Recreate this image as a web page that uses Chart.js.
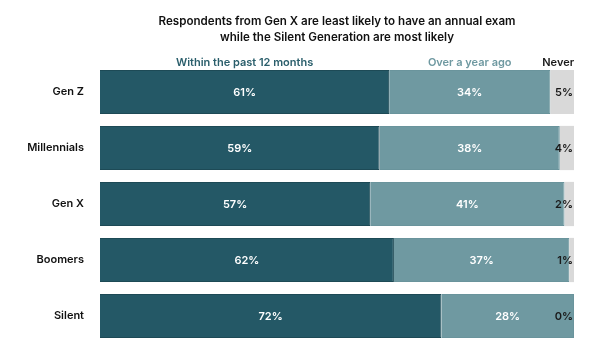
<!DOCTYPE html>
<html><head><meta charset="utf-8">
<script src="https://cdn.jsdelivr.net/npm/chart.js@4/dist/chart.umd.min.js"></script>
<style>html,body{margin:0;padding:0;background:#fff}#wrap{width:600px;height:360px}</style>
</head><body><div id="wrap"><canvas id="c"></canvas></div>
<script>
const categories = ["Gen Z", "Millennials", "Gen X", "Boomers", "Silent"];
const withinYear = [61, 59, 57, 62, 72];
const overYear = [34, 38, 41, 37, 28];
const never = [5, 4, 2, 1, 0];
const seriesNames = ["Within the past 12 months", "Over a year ago", "Never"];
const titleLines = ["Respondents from Gen X are least likely to have an annual exam", "while the Silent Generation are most likely"];

const FONT = "Inter, 'DejaVu Sans', sans-serif";
const colors = ["#245866", "#6f99a1", "#d9d9d9"];
const headerColors = ["#2a5e6b", "#6f99a1", "#1a1a1a"];

const overlay = {
  id: 'overlay',
  afterDatasetsDraw(chart) {
    const ctx = chart.ctx;
    const ca = chart.chartArea;
    ctx.save();
    // title
    ctx.fillStyle = '#111';
    ctx.font = "600 11.6px " + FONT;
    ctx.textAlign = 'center';
    ctx.textBaseline = 'middle';
    const cx = (ca.left + ca.right) / 2;
    ctx.fillText(titleLines[0], cx, 22);
    ctx.fillText(titleLines[1], cx, 38);
    // header labels over first row
    ctx.font = "600 11px " + FONT;
    chart.data.datasets.forEach((ds, i) => {
      const el = chart.getDatasetMeta(i).data[0];
      const l = Math.min(el.x, el.base), r = Math.max(el.x, el.base);
      ctx.fillStyle = headerColors[i];
      if (i === 2) { ctx.textAlign = 'right'; ctx.fillText(ds.label, ca.right, 63); }
      else { ctx.textAlign = 'center'; ctx.fillText(ds.label, (l + r) / 2, 63); }
    });
    // value labels
    ctx.font = "600 11px " + FONT;
    chart.data.datasets.forEach((ds, i) => {
      chart.getDatasetMeta(i).data.forEach((el, j) => {
        const v = ds.data[j];
        const l = Math.min(el.x, el.base), r = Math.max(el.x, el.base);
        if (i === 2) {
          ctx.fillStyle = '#1a1a1a'; ctx.textAlign = 'right';
          ctx.fillText(v + '%', ca.right - 1, el.y + 1);
        } else {
          ctx.fillStyle = '#ffffff'; ctx.textAlign = 'center';
          ctx.fillText(v + '%', (l + r) / 2, el.y + 1);
        }
      });
    });
    ctx.restore();
  }
};

new Chart(document.getElementById('c'), {
  type: 'bar',
  data: {
    labels: categories,
    datasets: [
      { label: seriesNames[0], data: withinYear, backgroundColor: colors[0], borderColor: '#1d4a56', borderWidth: 1 },
      { label: seriesNames[1], data: overYear, backgroundColor: colors[1], borderColor: '#6a949c', borderWidth: 1 },
      { label: seriesNames[2], data: never, backgroundColor: colors[2], borderWidth: 0 }
    ]
  },
  options: {
    indexAxis: 'y',
    responsive: true,
    maintainAspectRatio: false,
    animation: false,
    layout: { padding: { top: 64, right: 26, bottom: 16, left: 0 } },
    categoryPercentage: 0.79,
    barPercentage: 1,
    plugins: { legend: { display: false }, tooltip: { enabled: false }, title: { display: false } },
    scales: {
      x: { stacked: true, min: 0, max: 100, display: false },
      y: {
        stacked: true,
        grid: { display: false },
        border: { display: false },
        ticks: { color: '#111', font: { family: FONT, size: 11, weight: '600' }, padding: 8 },
        afterFit(scale) { scale.width = 100; }
      }
    }
  },
  plugins: [overlay]
});
</script></body></html>
